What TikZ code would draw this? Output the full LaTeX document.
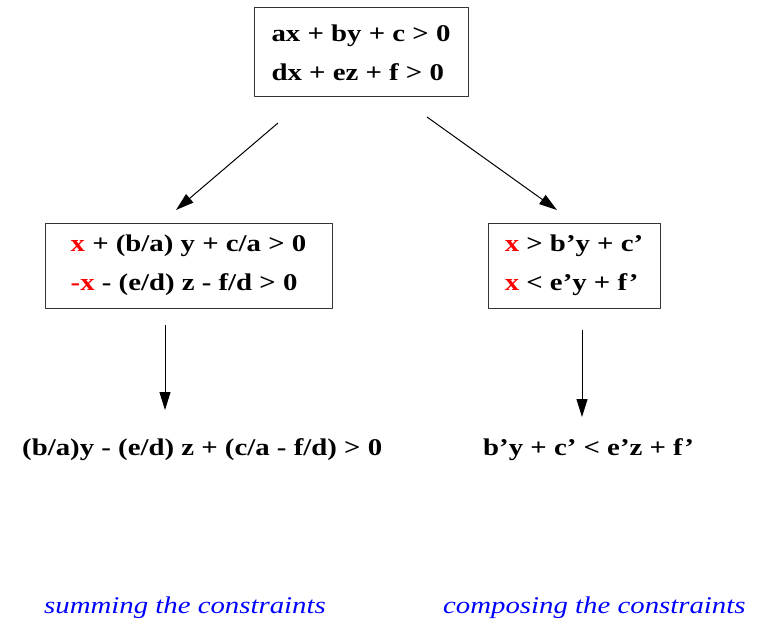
\documentclass[tikz,border=0pt]{standalone}
\usepackage{fontspec}
\setmainfont{Liberation Serif}[FakeStretch=1.2]
\usetikzlibrary{arrows.meta}
\definecolor{elimred}{HTML}{FF0000}
\definecolor{noteblue}{HTML}{0000FF}
\newcommand{\elimx}[1][]{\textcolor{elimred}{#1x}}

\begin{document}
\begin{tikzpicture}[
  x=1pt,
  y=-1pt,
  line join=round,
  consbox/.style={draw=black!80,line width=1pt,align=left,inner sep=0pt,
    font=\fontsize{24}{39}\selectfont\bfseries},
  result/.style={anchor=base west,inner sep=0pt,font=\fontsize{24}{29}\selectfont\bfseries},
  note/.style={anchor=base west,inner sep=0pt,text=noteblue,font=\fontsize{24}{29}\selectfont\itshape},
  arrow/.style={draw=black,line width=1pt,-{Triangle[length=18pt,width=11pt]}}
]
  % Match the artwork frame.
  \useasboundingbox (0,0) rectangle (758,623);

  % Original pair of constraints.
  \node[consbox,minimum width=214pt,minimum height=89pt] (orig) at (361,52.5)
    {ax + by + c > 0\\dx + ez + f > 0};

  % Left branch: normalised on x, then summed.
  \node[consbox,minimum width=287pt,minimum height=85pt] (normbox) at (188.5,265.5)
    {\elimx{} + (b/a) y + c/a > 0\\\elimx[-] - (e/d) z - f/d > 0};
  \node[result] (sumres) at (22,455) {(b/a)y - (e/d) z + (c/a - f/d) > 0};
  \node[note] (sumnote) at (44,613) {summing the constraints};

  % Right branch: bounds on x, then composed.
  \node[consbox,minimum width=172pt,minimum height=85pt] (boundbox) at (574,265.5)
    {\elimx{} > b’y + c’\\\elimx{} < e’y + f’};
  \node[result] (compres) at (483,455) {b’y + c’ < e’z + f’};
  \node[note] (compnote) at (443,613) {composing the constraints};

  % Free ends of the arrows.
  \coordinate (l0) at (278,123);
  \coordinate (l1) at (176,210);
  \coordinate (r0) at (427,117);
  \coordinate (r1) at (557,210);
  \coordinate (ls0) at (165,325);
  \coordinate (ls1) at (165,410);
  \coordinate (rs0) at (582,330);
  \coordinate (rs1) at (582,417);

  \draw[arrow] (l0) -- (l1);
  \draw[arrow] (r0) -- (r1);
  \draw[arrow] (ls0) -- (ls1);
  \draw[arrow] (rs0) -- (rs1);
\end{tikzpicture}
\end{document}
